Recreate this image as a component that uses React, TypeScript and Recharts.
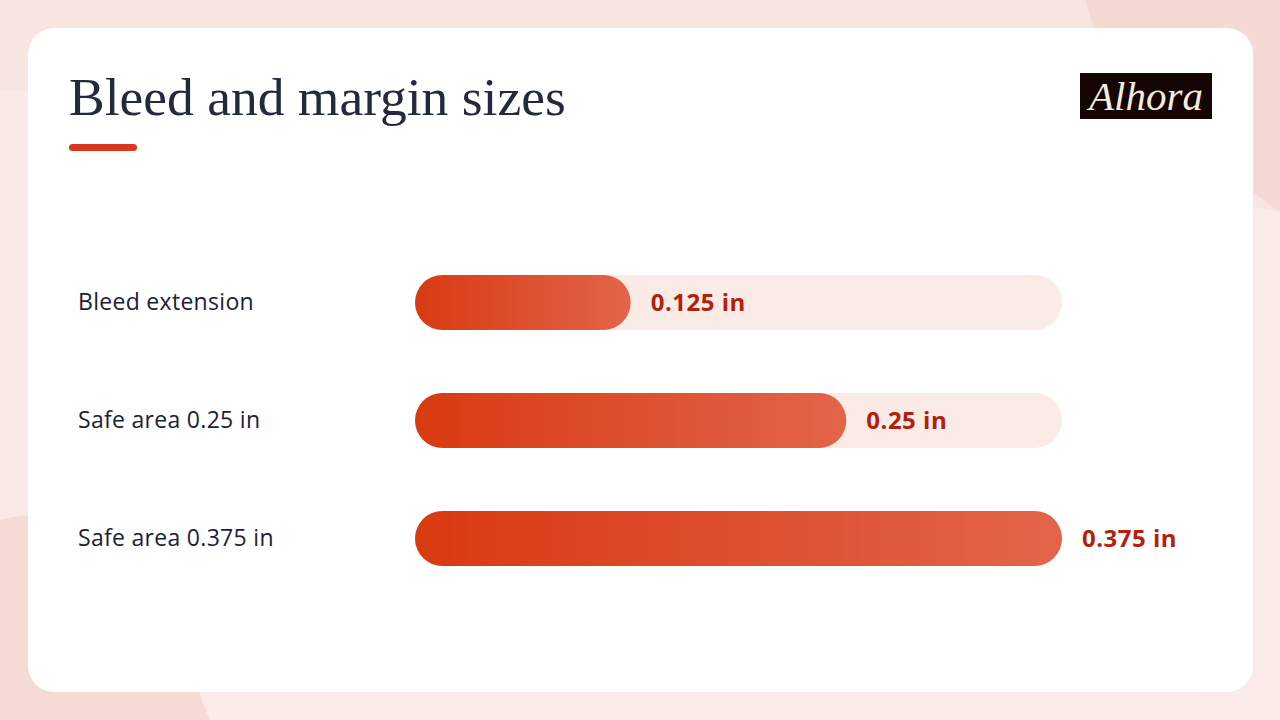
import React from 'react'
import { Bar, BarChart, LabelList, XAxis, YAxis } from 'recharts'

const categories = ['Bleed extension', 'Safe area 0.25 in', 'Safe area 0.375 in']
const sizes = [0.125, 0.25, 0.375]
const maxSize = 0.375

const data = categories.map((name, i) => ({ name, size: sizes[i] }))

const ink = '#1c2233'
const accent = '#d9381e'
const valueInk = '#b3200d'

function CategoryTick(props: any) {
  const { y, payload } = props
  return (
    <text
      x={78}
      y={y}
      dy={8}
      textAnchor="start"
      fontSize={23}
      fontWeight={500}
      letterSpacing={0.3}
      fill={ink}
      fontFamily="'Open Sans', sans-serif"
    >
      {payload.value}
    </text>
  )
}

function Backdrop() {
  return (
    <svg width={1280} height={720} style={{ position: 'absolute', left: 0, top: 0 }}>
      <rect width={1280} height={720} fill="#f8e4e0" />
      <path d="M1085 0 L1280 0 L1280 212 Q1180 140 1100 60 Q1095 30 1085 0 Z" fill="#f5d9d3" />
      <path d="M0 90 L0 520 Q40 510 80 520 L80 90 Z" fill="#fae9e6" />
      <path d="M0 520 Q60 505 120 530 Q190 620 210 720 L0 720 Z" fill="#f5dad5" />
      <path d="M210 720 Q200 700 190 660 L1280 660 L1280 720 Z" fill="#faece9" />
      <path d="M1200 212 Q1240 200 1280 212 L1280 720 L1200 720 Z" fill="#faebe8" />
    </svg>
  )
}

export default function App() {
  return (
    <div style={{ position: 'absolute', left: 0, top: 0, width: 1280, height: 720, overflow: 'hidden' }}>
      <Backdrop />
      <svg width={0} height={0} style={{ position: 'absolute' }}>
        <defs>
          <linearGradient id="barFill" x1="0" y1="0" x2="1" y2="0">
            <stop offset="0%" stopColor="#d93a12" />
            <stop offset="100%" stopColor="#e2654a" />
          </linearGradient>
        </defs>
      </svg>
      <div
        style={{
          position: 'absolute',
          left: 28,
          top: 28,
          width: 1225,
          height: 664,
          background: '#ffffff',
          borderRadius: 26,
        }}
      />
      <div
        style={{
          position: 'absolute',
          left: 69,
          top: 62,
          fontFamily: '"Liberation Serif", serif',
          fontSize: 53.5,
          lineHeight: '70px',
          color: '#232a3b',
          whiteSpace: 'nowrap',
        }}
      >
        Bleed and margin sizes
      </div>
      <div style={{ position: 'absolute', left: 69, top: 144, width: 68, height: 7, borderRadius: 4, background: accent }} />
      <div
        style={{
          position: 'absolute',
          left: 1080,
          top: 73,
          width: 132,
          height: 46,
          background: '#140404',
          color: '#f4ecdc',
          fontFamily: '"Liberation Serif", serif',
          fontStyle: 'italic',
          fontSize: 41,
          lineHeight: '46px',
          textAlign: 'center',
        }}
      >
        Alhora
      </div>
      <div style={{ position: 'absolute', left: 0, top: 0 }}>
        <BarChart
          width={1280}
          height={720}
          data={data}
          layout="vertical"
          margin={{ top: 243, right: 218, bottom: 123, left: 78 }}
        >
          <XAxis type="number" domain={[0, maxSize]} hide />
          <YAxis
            type="category"
            dataKey="name"
            width={337}
            axisLine={false}
            tickLine={false}
            tick={<CategoryTick />}
          />
          <Bar
            dataKey="size"
            barSize={55}
            fill="url(#barFill)"
            radius={27.5}
            background={{ fill: '#fbebe7', radius: 27.5 }}
            isAnimationActive={false}
          >
            <LabelList
              dataKey="size"
              position="right"
              offset={20}
              formatter={(v: any) => `${v} in`}
              fill={valueInk}
              fontSize={24}
              fontWeight={700}
              letterSpacing={0.5}
              fontFamily="'Open Sans', sans-serif"
            />
          </Bar>
        </BarChart>
      </div>
    </div>
  )
}
